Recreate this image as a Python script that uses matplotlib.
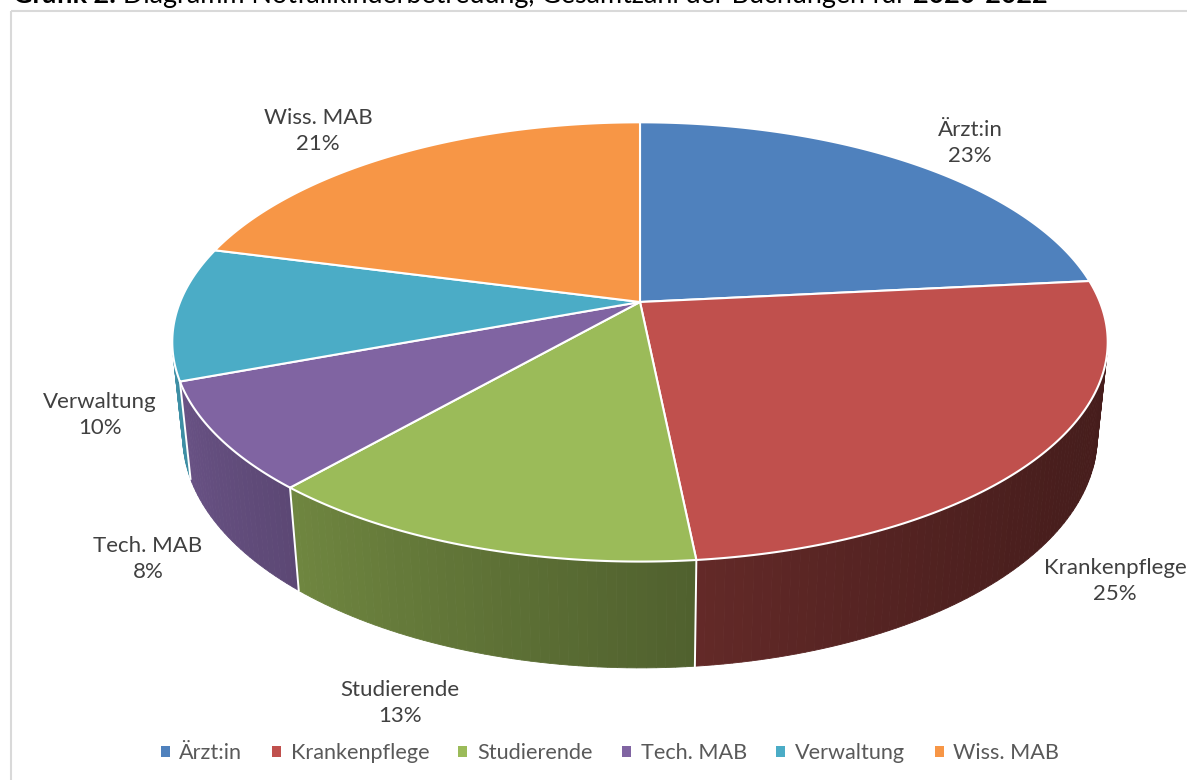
import numpy as np
import matplotlib
matplotlib.use("Agg")
import matplotlib.pyplot as plt
from matplotlib.patches import Polygon, Patch, Rectangle

# Anteile der Buchungen nach Berufsgruppe (in %)
categories = ["Ärzt:in", "Krankenpflege", "Studierende", "Tech. MAB", "Verwaltung", "Wiss. MAB"]
shares = [23.4, 25.0, 13.0, 7.9, 9.8, 20.9]
colors = ["#4F81BD", "#C0504D", "#9BBB59", "#8064A2", "#4BACC6", "#F79646"]

# label block centres in pixels
label_pos = [(970, 143), (1115, 581), (400, 703), (148, 559), (100, 415), (318, 131)]

W, H = 1187, 780
fig = plt.figure(figsize=(W / 100, H / 100), dpi=100)
ax = fig.add_axes([0, 0, 1, 1])
ax.set_xlim(0, W)
ax.set_ylim(H, 0)
ax.axis("off")

FONT = ["Lato", "DejaVu Sans"]

# perspective view of the pie disk
X0, Y0 = 640, 302
tilt = np.radians(27.5)
D = 4.877
F = 2243
h = 0.233


def project(theta, z=0.0):
    u = np.sin(theta)
    v = np.cos(theta)
    depth = D + v * np.cos(tilt) - z * np.sin(tilt)
    x = X0 + F * u / depth
    y = Y0 - F * (v * np.sin(tilt) + z * np.cos(tilt)) / depth
    return x, y


def shade(theta):
    return 0.62 - 0.24 * np.sin(theta) + 0.08 * np.cos(theta)


frac = np.array(shares) / sum(shares)
edges = np.concatenate([[0], np.cumsum(frac)]) * 2 * np.pi
v_limit = -1 / (D * np.cos(tilt))

# outer rim (only the part facing the viewer)
for i, c in enumerate(colors):
    rgb = np.array(matplotlib.colors.to_rgb(c))
    ts = np.linspace(edges[i], edges[i + 1], max(int(np.degrees(edges[i + 1] - edges[i])), 2) + 1)
    for a, b in zip(ts[:-1], ts[1:]):
        mid = (a + b) / 2
        if np.cos(mid) > v_limit + 0.02:
            continue
        xa, ya = project(a)
        xb, yb = project(b)
        xa2, ya2 = project(a, -h)
        xb2, yb2 = project(b, -h)
        col = np.clip(rgb * shade(mid), 0, 1)
        ax.add_patch(Polygon([(xa, ya), (xb, yb), (xb2, yb2), (xa2, ya2)],
                             closed=True, facecolor=col, edgecolor=col, lw=0.6))

# white seams on the rim between slices
for e in edges[1:-1]:
    if np.cos(e) < v_limit:
        x1, y1 = project(e)
        x2, y2 = project(e, -h)
        ax.plot([x1, x2], [y1, y2], color="white", lw=1.4)

# top faces
for i, c in enumerate(colors):
    ts = np.linspace(edges[i], edges[i + 1], 200)
    xs, ys = project(ts)
    pts = [(X0, Y0)] + list(zip(xs, ys))
    ax.add_patch(Polygon(pts, closed=True, facecolor=c, edgecolor="white", lw=1.5))

# data labels
for name, val, (lx, ly) in zip(categories, shares, label_pos):
    ax.text(lx, ly, f"{name}\n{round(val)}%", ha="center", va="center",
            fontsize=16, family=FONT, color="#404040", linespacing=1.4)

# chart frame
ax.add_patch(Rectangle((10.5, 10.5), W, H, fill=False, edgecolor="#D9D9D9", lw=1.5))

# caption above the chart (cut by the page edge)
fig.canvas.draw()
r = fig.canvas.get_renderer()
x = 13
for txt, wt in [("Grafik 2:", "bold"),
                (" Diagramm Notfallkinderbetreuung, Gesamtzahl der Buchungen für ", "normal"),
                ("2020-2022", "bold")]:
    t = ax.text(x, 3, txt, ha="left", va="baseline", fontsize=19.4, family=FONT,
                fontweight=wt, color="black")
    bb = t.get_window_extent(renderer=r)
    x += bb.width

handles = [Patch(facecolor=c, edgecolor="none") for c in colors]
fig.legend(handles, categories, loc="center", bbox_to_anchor=(610 / W, 1 - 753 / H),
           ncol=6, frameon=False, handlelength=0.42, handleheight=0.42, handletextpad=0.45,
           columnspacing=1.35, prop={"family": FONT, "size": 15.6}, labelcolor="#595959")

fig.savefig("out.png", dpi=100)
